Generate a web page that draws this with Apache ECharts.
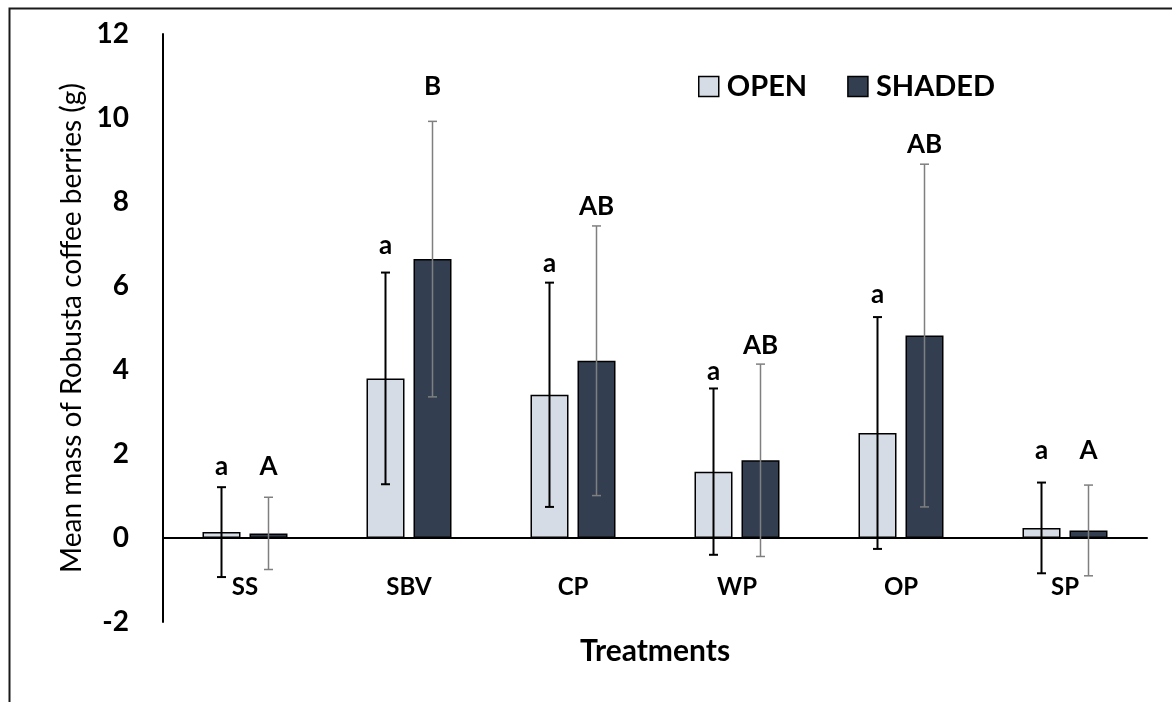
<!DOCTYPE html>
<html>
<head>
<meta charset="utf-8">
<script src="https://cdn.jsdelivr.net/npm/echarts@6/dist/echarts.min.js"></script>
<style>
  html, body { margin: 0; padding: 0; background: #fff; }
  #chart { width: 1172px; height: 702px; }
</style>
</head>
<body>
<div id="chart"></div>
<script>
// ---- data ----
const categories = ['SS', 'SBV', 'CP', 'WP', 'OP', 'SP'];
const seriesNames = ['OPEN', 'SHADED'];
const openMean = [0.14, 3.80, 3.41, 1.58, 2.50, 0.24];
const openErr = [1.07, 2.52, 2.67, 1.98, 2.76, 1.08];
const shadedMean = [0.11, 6.64, 4.22, 1.85, 4.82, 0.18];
const shadedErr = [0.86, 3.28, 3.21, 2.29, 4.08, 1.08];
const openLetters = ['a', 'a', 'a', 'a', 'a', 'a'];
const shadedLetters = ['A', 'B', 'AB', 'AB', 'AB', 'A'];
const openLetterY = [1.52, 6.78, 6.34, 3.76, 5.61, 1.90];
const shadedLetterY = [1.52, 10.55, 7.71, 4.38, 9.17, 1.88];
const yMin = -2, yMax = 12, yInterval = 2;
const xTitle = 'Treatments';
const yTitle = 'Mean mass of Robusta coffee berries (g)';

// ---- styling constants ----
const FONT = 'Lato';
const BAR_W = 38;
const GAP_PX = 9;
const OFFSET = (BAR_W + GAP_PX) / 2;
const OPEN_FILL = '#D6DCE5';
const SHADED_FILL = '#333F50';

function errRender(offset, color, lw, cap, letters) {
  return function (params, api) {
    const i = api.value(0), m = api.value(1), e = api.value(2), ly = api.value(3);
    const top = api.coord([i, m + e]);
    const bot = api.coord([i, m - e]);
    const lab = api.coord([i, ly]);
    const x = top[0] + offset;
    const st = { stroke: color, lineWidth: lw };
    return {
      type: 'group',
      children: [
        { type: 'line', shape: { x1: x, y1: top[1], x2: x, y2: bot[1] }, style: st },
        { type: 'line', shape: { x1: x - cap / 2, y1: top[1], x2: x + cap / 2, y2: top[1] }, style: st },
        { type: 'line', shape: { x1: x - cap / 2, y1: bot[1], x2: x + cap / 2, y2: bot[1] }, style: st },
        { type: 'text', x: x, y: lab[1] + 5, style: {
            text: letters[params.dataIndex], fill: '#000',
            fontFamily: FONT, fontWeight: 'bold', fontSize: 26,
            align: 'center', verticalAlign: 'bottom' } }
      ]
    };
  };
}

const openErrData = categories.map((c, i) => [i, openMean[i], openErr[i], openLetterY[i]]);
const shadedErrData = categories.map((c, i) => [i, shadedMean[i], shadedErr[i], shadedLetterY[i]]);

const chart = echarts.init(document.getElementById('chart'));
chart.setOption({
  animation: false,
  backgroundColor: '#fff',
  textStyle: { fontFamily: FONT },
  graphic: [{
    type: 'rect', left: 7, top: 6, silent: true,
    shape: { x: 0, y: 0, width: 2000, height: 2000 },
    style: { fill: 'none', stroke: '#1a1a1a', lineWidth: 2 }
  }],
  grid: { left: 163, right: 25, top: 34, bottom: 80, containLabel: false, outerBoundsMode: 'none' },
  legend: {
    left: 693, top: 67,
    itemWidth: 20, itemHeight: 20, itemGap: 40,
    icon: 'rect',
    textStyle: { fontFamily: FONT, fontWeight: 'bold', fontSize: 29, color: '#000', padding: [0, 0, 0, 3] },
    data: [
      { name: seriesNames[0], itemStyle: { color: OPEN_FILL, borderColor: '#000', borderWidth: 1.5 } },
      { name: seriesNames[1], itemStyle: { color: SHADED_FILL, borderColor: '#000', borderWidth: 1.5 } }
    ]
  },
  xAxis: {
    type: 'category',
    data: categories,
    axisLine: { onZero: true, lineStyle: { color: '#000', width: 2 } },
    axisTick: { show: false },
    axisLabel: { color: '#000', fontFamily: FONT, fontWeight: 'bold', fontSize: 24, margin: -47 },
    name: xTitle, nameLocation: 'middle', nameGap: 14, nameMoveOverlap: false,
    nameTextStyle: { color: '#000', fontFamily: FONT, fontWeight: 'bold', fontSize: 30 }
  },
  yAxis: {
    type: 'value', min: yMin, max: yMax, interval: yInterval,
    axisLine: { show: true, onZero: false, lineStyle: { color: '#000', width: 2 } },
    axisTick: { show: false },
    splitLine: { show: false },
    axisLabel: { color: '#000', fontFamily: FONT, fontWeight: 'bold', fontSize: 28, margin: 34 },
    name: yTitle, nameLocation: 'middle', nameGap: 75, nameRotate: 90,
    nameTextStyle: { color: '#000', fontFamily: FONT, fontSize: 28 }
  },
  series: [
    {
      name: seriesNames[0], type: 'bar', data: openMean,
      barWidth: BAR_W, barGap: (GAP_PX / BAR_W * 100) + '%',
      itemStyle: { color: OPEN_FILL, borderColor: '#000', borderWidth: 1.5 }
    },
    {
      name: seriesNames[1], type: 'bar', data: shadedMean,
      barWidth: BAR_W,
      itemStyle: { color: SHADED_FILL, borderColor: '#000', borderWidth: 1.5 }
    },
    {
      name: 'openErr', type: 'custom', data: openErrData,
      encode: { x: 0, y: 1 }, z: 5,
      renderItem: errRender(-OFFSET, '#000', 2, 9, openLetters)
    },
    {
      name: 'shadedErr', type: 'custom', data: shadedErrData,
      encode: { x: 0, y: 1 }, z: 5,
      renderItem: errRender(OFFSET, '#7f7f7f', 1.5, 9, shadedLetters)
    }
  ]
});
</script>
</body>
</html>
